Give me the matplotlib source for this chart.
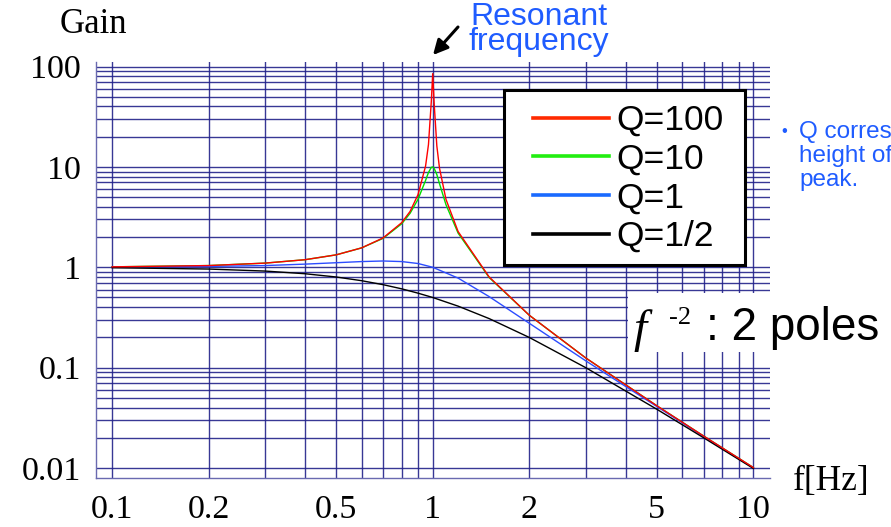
import matplotlib.pyplot as plt
from matplotlib.patches import Rectangle
from matplotlib.ticker import FixedLocator, NullFormatter

freq_peak = [0.1, 0.2, 0.3, 0.4, 0.5, 0.6, 0.7, 0.8, 0.85, 0.9, 0.95, 0.97,
             0.99, 1.0, 1.01, 1.03, 1.05, 1.1, 1.2, 1.5, 2, 3, 5, 7, 10]
gain_q100 = [1.01, 1.04, 1.10, 1.19, 1.33, 1.56, 1.96, 2.78, 3.6, 5.3, 10.2,
             16.7, 45, 85, 44, 16.2, 9.7, 4.75, 2.27, 0.80, 0.333, 0.125,
             0.0417, 0.0208, 0.0101]
gain_q10 = [1.01, 1.04, 1.10, 1.19, 1.33, 1.56, 1.94, 2.71, 3.45, 4.76, 7.34,
            8.8, 9.9, 10, 9.7, 8.4, 6.8, 4.2, 2.19, 0.79, 0.333, 0.125,
            0.0417, 0.0208, 0.0101]

freq_flat = [0.1, 0.2, 0.3, 0.4, 0.5, 0.6, 0.7, 0.8, 0.9, 1.0, 1.2, 1.5,
             2, 3, 5, 7, 10]
gain_q1 = [1.005, 1.02, 1.04, 1.075, 1.11, 1.14, 1.155, 1.14, 1.09, 1.0,
           0.78, 0.51, 0.277, 0.117, 0.041, 0.0206, 0.0100]
gain_qhalf = [0.99, 0.96, 0.917, 0.862, 0.80, 0.735, 0.671, 0.61, 0.552,
              0.50, 0.41, 0.308, 0.20, 0.10, 0.0385, 0.020, 0.0099]

labels = ["Q=100", "Q=10", "Q=1", "Q=1/2"]
line_colors = ["#ff0000", "#00dd00", "#2c4cff", "#000000"]
legend_colors = ["#ff2a00", "#22ee11", "#1a6aff", "#000000"]

x_major = [0.1, 0.2, 0.5, 1, 2, 5, 10]
x_minor = [0.3, 0.4, 0.6, 0.7, 0.8, 0.9, 3, 4, 6, 7, 8, 9]
y_major = [0.01, 0.1, 1, 10, 100]
y_minor = [m * d for d in (0.01, 0.1, 1, 10) for m in range(2, 10)]

W, H = 891, 527
GRID = "#22228a"
BLUE_TEXT = "#1f5cff"
SERIF = "Liberation Serif"
SANS = "Liberation Sans"


def fx(px):
    return px / W


def fy(py):
    return 1 - py / H


def main():
    fig = plt.figure(figsize=(W / 100, H / 100), dpi=100)
    ax = fig.add_axes([fx(96), fy(478), fx(770) - fx(96), fy(62) - fy(478)])

    ax.set_xscale("log")
    ax.set_yscale("log")
    ax.set_xlim(0.0891, 11.27)
    ax.set_ylim(0.00795, 111)

    series = [(freq_peak, gain_q100), (freq_peak, gain_q10),
              (freq_flat, gain_q1), (freq_flat, gain_qhalf)]
    handles = []
    for (f, g), lab, c in zip(series, labels, line_colors):
        h, = ax.plot(f, g, color=c, lw=1.0, label=lab, zorder=3)
        handles.append(h)
    # red peak sits on top as in the reference
    handles[0].set_zorder(3.5)

    ax.xaxis.set_major_locator(FixedLocator(x_major))
    ax.xaxis.set_minor_locator(FixedLocator(x_minor))
    ax.xaxis.set_minor_formatter(NullFormatter())
    ax.set_xticklabels([f"{v:g}" for v in x_major])
    ax.yaxis.set_major_locator(FixedLocator(y_major))
    ax.yaxis.set_minor_locator(FixedLocator(y_minor))
    ax.yaxis.set_minor_formatter(NullFormatter())
    ax.set_yticklabels([f"{v:g}" for v in y_major])

    ax.grid(True, which="both", color=GRID, lw=1.0, alpha=0.9)
    ax.set_axisbelow(True)
    ax.tick_params(which="both", length=0)
    ax.tick_params(axis="x", pad=12, labelsize=24.5)
    ax.tick_params(axis="y", pad=11, labelsize=24.5)
    for lab in ax.get_xticklabels() + ax.get_yticklabels():
        lab.set_fontfamily(SERIF)
    for side in ("top", "right"):
        ax.spines[side].set_visible(False)
    for side in ("left", "bottom"):
        ax.spines[side].set_color("#6a6ab0")
        ax.spines[side].set_linewidth(1.0)

    # legend box
    box = Rectangle((fx(504), fy(265)), fx(745) - fx(504), fy(90) - fy(265),
                    transform=fig.transFigure, facecolor="white",
                    edgecolor="black", lw=2.2, zorder=4.5, clip_on=False)
    ax.add_patch(box)
    leg = ax.legend(handles=handles, loc="upper left",
                    bbox_to_anchor=(fx(533), fy(104)),
                    bbox_transform=fig.transFigure, frameon=False,
                    borderpad=0, borderaxespad=0, handlelength=2.15,
                    handletextpad=0.2, labelspacing=0.16,
                    prop={"family": SANS, "size": 25.5})
    leg.set_zorder(5)
    for ln, c in zip(leg.get_lines(), legend_colors):
        ln.set_color(c)
        ln.set_linewidth(2.6)

    # axis titles
    fig.text(fx(60), fy(33), "Gain", family=SERIF, size=25, va="baseline")
    fig.text(fx(793), fy(490), "f[Hz]", family=SERIF, size=25.5,
             va="baseline")

    fig.text(fx(539), fy(2), "Resonant\nfrequency", family=SANS, size=23,
             color=BLUE_TEXT, ha="center", va="top", multialignment="center",
             linespacing=0.8)
    ax.annotate("", xy=(fx(433), fy(55)), xytext=(fx(458), fy(27)),
                xycoords="figure fraction", textcoords="figure fraction",
                arrowprops=dict(arrowstyle="-|>", color="black", lw=2.2,
                                mutation_scale=22, shrinkA=0, shrinkB=0))

    # side note, cut off at the right edge like the slide crop
    fig.text(fx(781), fy(136), "\u2022", family=SANS, size=12,
             color=BLUE_TEXT, va="baseline")
    note = "Q corresponds to the\nheight of the resonance\npeak."
    fig.text(fx(799), fy(121), note, family=SANS, size=17.5,
             color=BLUE_TEXT, va="top", linespacing=1.12)

    # f^-2 label on a white patch
    patch = Rectangle((fx(628), fy(352)), fx(900) - fx(628), fy(293) - fy(352),
                      transform=fig.transFigure, facecolor="white",
                      edgecolor="none", zorder=4, clip_on=False)
    ax.add_patch(patch)
    fig.text(fx(633), fy(342), "f", family=SERIF, style="italic", size=34,
             va="baseline", zorder=6)
    fig.text(fx(669), fy(324), "-2", family=SERIF, size=19,
             va="baseline", zorder=6)
    fig.text(fx(706), fy(340), ": 2 poles", family=SANS, size=33,
             va="baseline", zorder=6)

    fig.savefig("out.png", dpi=100)


if __name__ == "__main__":
    main()
